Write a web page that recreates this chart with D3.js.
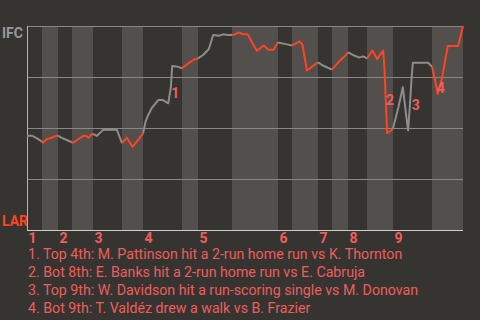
<!DOCTYPE html>
<html>
<head>
<meta charset="utf-8">
<script src="https://cdn.jsdelivr.net/npm/d3@7"></script>
<style>
body { margin: 0; background: #363430; }
svg { display: block; font-family: Roboto, sans-serif; }
</style>
</head>
<body>
<div class="app"></div>
<script>
'use strict'

var width = 480;
var height = 320;
var margin = {top: 26, right: 17, bottom: 90, left: 27};

// half-inning boundaries, in % of the game
var halfStarts = [0, 3.44, 7.11, 10.32, 15.14, 21.79, 26.61, 35.55, 39.22, 47.02,
                  57.57, 60.78, 66.74, 69.95, 73.62, 77.98, 83.94, 92.89, 100];
var innings = ["1", "2", "3", "4", "5", "6", "7", "8", "9"];

// win probability for IFC (%) against game progress (%)
var progress = [0, 1.2, 2.2, 3.44, 3.7, 4.5, 5.3, 6.0, 6.8, 7.11,
                7.96, 9.1, 10.32, 10.6, 11.8, 12.9, 13.5, 14.1, 14.8, 15.14,
                16.0, 16.7, 17.5, 20.6, 21.79, 22.9, 24.2, 26.61,
                27.2, 27.8, 28.6, 30.1, 31.2, 32.4, 33.0, 33.3, 34.3, 35.55,
                37.0, 38.1, 39.22,
                40.4, 41.7, 42.7, 44.0, 45.0, 46.0, 47.02,
                47.7, 48.5, 49.5, 50.7, 51.1, 52.7, 54.3, 55.4, 56.5, 57.57,
                59.6, 60.78,
                62.5, 63.2, 64.2, 65.4, 66.74,
                68.0, 69.95,
                71.4, 72.8, 73.62,
                75.2, 76.2, 77.1, 77.98,
                79.2, 80.3, 81.7, 82.0, 82.6, 83.5, 83.94,
                85.2, 86.2, 87.1, 87.4, 87.8, 88.2, 88.5, 92.0, 92.89,
                93.6, 94.2, 95.1, 96.5, 98.9, 100];
var ifcProb = [46.2, 46.2, 45.0, 43.3, 42.8, 44.5, 45.0, 45.6, 46.2, 46.3,
               45.2, 44.1, 43.0, 42.8, 44.6, 46.1, 46.2, 45.2, 46.9, 47.1,
               46.1, 47.5, 49.2, 49.2, 42.6, 45.2, 40.8, 47.3,
               53.1, 56.4, 59.7, 63.7, 63.7, 62.1, 70.2, 80.4, 80.2, 79.3,
               81.7, 83.3, 84.1,
               85.8, 88.7, 95.6, 95.2, 95.9, 95.6, 95.6,
               95.9, 96.8, 96.1, 95.8, 94.0, 87.9, 90.4, 88.3, 88.3, 91.9,
               91.0, 90.4,
               92.5, 90.7, 78.2, 80.1, 82.2,
               80.5, 78.6,
               82.2, 85.0, 87.1,
               85.4, 84.5, 85.1, 84.1,
               88.0, 83.8, 88.0, 78.4, 47.4, 48.8, 49.8,
               60.3, 70.0, 53.9, 48.8, 60.4, 74.4, 82.0, 82.0, 80.0,
               73.5, 66.7, 73.5, 90.2, 90.2, 100];

// key plays: index where the swing starts and ends
var noteFrom = [33, 76, 84, 89];
var noteTo = [35, 78, 87, 91];
var notes = [
  "1. Top 4th: M. Pattinson hit a 2-run home run vs K. Thornton",
  "2. Bot 8th: E. Banks hit a 2-run home run vs E. Cabruja",
  "3. Top 9th: W. Davidson hit a run-scoring single vs M. Donovan",
  "4. Bot 9th: T. Valdéz drew a walk vs B. Frazier"
];

var svg = d3.select(".app")
            .append("svg")
            .attr("width", width)
            .attr("height", height);

var x = d3.scaleLinear()
          .domain([0, 100])
          .range([margin.left, width - margin.right]);

var y = d3.scaleLinear()
          .domain([0, 100])
          .range([height - margin.bottom, margin.top]);

// bands for the bottom halves
for (var k = 1; k < halfStarts.length - 1; k += 2) {
  svg.append("rect")
     .attr("x", x(halfStarts[k]))
     .attr("y", y(100))
     .attr("width", x(halfStarts[k + 1]) - x(halfStarts[k]))
     .attr("height", y(0) - y(100))
     .attr("fill", "#524f4c");
}

// grid lines
svg.selectAll("line.grid")
   .data([25, 50, 75, 100])
   .enter().append("line")
   .attr("class", "grid")
   .attr("x1", x(0)).attr("x2", x(100))
   .attr("y1", function(d) { return y(d) + 0.5; })
   .attr("y2", function(d) { return y(d) + 0.5; })
   .attr("stroke", "#8a8886");

// left and bottom lines
svg.append("line")
   .attr("x1", x(0) + 0.5).attr("x2", x(0) + 0.5)
   .attr("y1", y(100)).attr("y2", y(0) + 1)
   .attr("stroke", "#b5b3b0");
svg.append("line")
   .attr("x1", x(0)).attr("x2", x(100))
   .attr("y1", y(0) + 0.5).attr("y2", y(0) + 0.5)
   .attr("stroke", "#cfcdca");

var pts = progress.map(function(p, i) { return {p: p, v: ifcProb[i]}; });

var line = d3.line()
             .x(function(d) { return x(d.p); })
             .y(function(d) { return y(d.v); });

// one piece of line per half inning, grey when IFC bats, red when LAR bats
for (var h = 0; h < halfStarts.length - 1; h++) {
  var a = halfStarts[h], b = halfStarts[h + 1];
  var seg = pts.filter(function(d) { return d.p >= a && d.p <= b; });
  var before = pts.filter(function(d) { return d.p < a; });
  if (before.length && seg.length && seg[0].p > a) seg.unshift(before[before.length - 1]);
  svg.append("path")
     .attr("d", line(seg))
     .attr("fill", "none")
     .attr("stroke", h % 2 == 0 ? "#8d8d8d" : "#ff4422")
     .attr("stroke-width", 2)
     .attr("stroke-linejoin", "round");
}

// numbers at the key plays
svg.selectAll("text.note")
   .data(noteTo)
   .enter().append("text")
   .attr("class", "note")
   .attr("x", function(d) { return x(progress[d]) + 3; })
   .attr("y", function(d, i) { return (y(ifcProb[d]) + y(ifcProb[noteFrom[i]])) / 2 + 13; })
   .attr("text-anchor", "middle")
   .attr("font-size", 14)
   .attr("font-weight", "bold")
   .attr("fill", "#f25c5c")
   .text(function(d, i) { return i + 1; });

// team labels
svg.append("text")
   .attr("x", 2).attr("y", y(100) + 12)
   .attr("font-size", 14).attr("font-weight", "bold")
   .attr("fill", "#9a9896")
   .text("IFC");
svg.append("text")
   .attr("x", 2).attr("y", y(0) - 4)
   .attr("font-size", 14).attr("font-weight", "bold")
   .attr("fill", "#ff4422")
   .text("LAR");

// inning numbers at the start of each top half
var topStarts = halfStarts.filter(function(d, i) { return i % 2 == 0 && i < 18; });
var xAxis = d3.axisBottom(x)
              .tickValues(topStarts)
              .tickSize(0)
              .tickPadding(0)
              .tickFormat(function(d, i) { return innings[i]; });
var gx = svg.append("g")
            .attr("transform", "translate(0," + (y(0) + 3) + ")")
            .call(xAxis);
gx.select(".domain").remove();
gx.selectAll("text")
  .attr("text-anchor", "start")
  .attr("dx", 1)
  .attr("font-family", "Roboto, sans-serif")
  .attr("font-size", 14)
  .attr("font-weight", "bold")
  .attr("fill", "#f25c5c");

// footnotes
svg.selectAll("text.foot")
   .data(notes)
   .enter().append("text")
   .attr("class", "foot")
   .attr("x", 28)
   .attr("y", function(d, i) { return 259 + i * 18; })
   .attr("font-size", 14.2)
   .attr("fill", "#ec5e5e")
   .text(function(d) { return d; });
</script>
</body>
</html>
